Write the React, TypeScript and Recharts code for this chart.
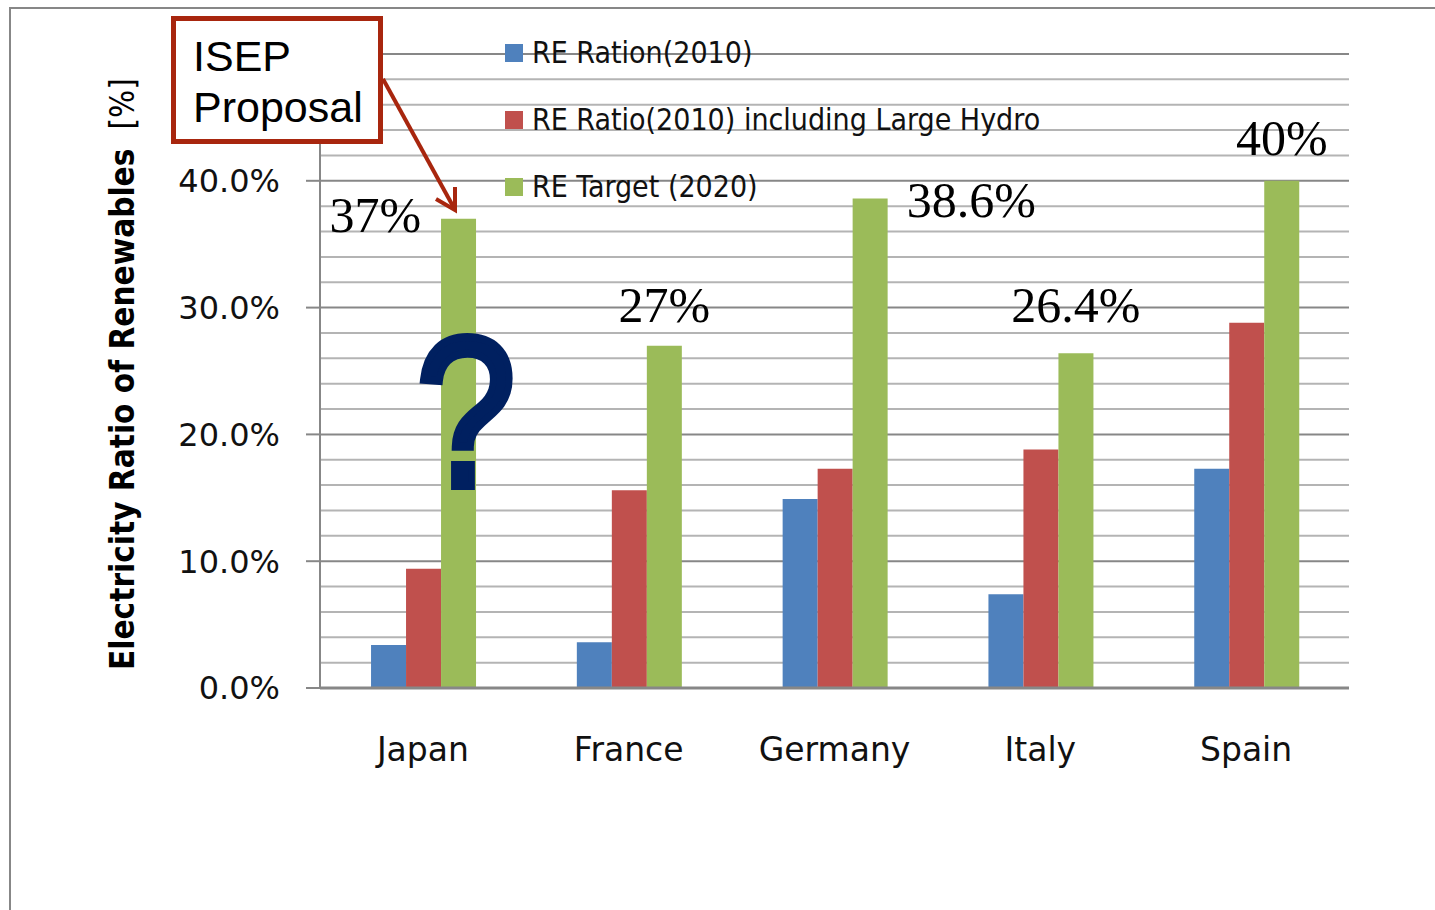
import React from 'react';
import { BarChart, Bar, XAxis, YAxis, CartesianGrid, Legend, LabelList } from 'recharts';

const countries = ['Japan', 'France', 'Germany', 'Italy', 'Spain'];
const reRatio2010 = [3.4, 3.6, 14.9, 7.4, 17.3];
const reRatioWithHydro = [9.4, 15.6, 17.3, 18.8, 28.8];
const reTarget2020 = [37, 27, 38.6, 26.4, 40];
const targetLabels = ['37%', '27%', '38.6%', '26.4%', '40%'];
const seriesNames = ['RE Ration(2010)', 'RE Ratio(2010) including Large Hydro', 'RE Target (2020)'];
const yTicks = [0, 10, 20, 30, 40, 50];
const minorTicks = [2, 4, 6, 8, 12, 14, 16, 18, 22, 24, 26, 28, 32, 34, 36, 38, 42, 44, 46, 48];

const data = countries.map((country, i) => ({
  country,
  ratio: reRatio2010[i],
  hydro: reRatioWithHydro[i],
  target: reTarget2020[i],
}));

// where each target label sits relative to its green bar
const labelPlacement = [
  { ref: 'left', anchor: 'end', dx: -20, dy: 13 },
  { ref: 'center', anchor: 'middle', dx: 0, dy: -24 },
  { ref: 'right', anchor: 'start', dx: 19, dy: 18 },
  { ref: 'center', anchor: 'middle', dx: 0, dy: -31 },
  { ref: 'center', anchor: 'middle', dx: 0, dy: -26 },
];

const AXIS_GRAY = '#878787';
const SANS = "'DejaVu Sans', Verdana, sans-serif";
const SANS_COND = "'DejaVu Sans Condensed', 'DejaVu Sans', sans-serif";
const ARROW_RED = '#a8260e';

function renderTargetLabel(props: any) {
  const { x, y, width, index } = props;
  const p = labelPlacement[index];
  if (!p) return null;
  const bx = p.ref === 'left' ? x : p.ref === 'right' ? x + width : x + width / 2;
  return (
    <text
      x={bx + p.dx}
      y={y + p.dy}
      textAnchor={p.anchor}
      fontFamily="'Liberation Serif', 'Times New Roman', serif"
      fontSize={50}
      fill="#000"
    >
      {targetLabels[index]}
    </text>
  );
}

function renderLegend(props: any) {
  const payload = [...(props.payload || [])].sort(
    (a: any, b: any) => seriesNames.indexOf(a.value) - seriesNames.indexOf(b.value)
  );
  return (
    <div>
      {payload.map((item: any, i: number) => (
        <div key={i} style={{ display: 'flex', alignItems: 'center', height: 67 }}>
          <span style={{ width: 18, height: 18, background: item.color, marginRight: 9, display: 'inline-block' }} />
          <span style={{ fontFamily: SANS_COND, fontSize: 30, lineHeight: '30px', color: '#111', whiteSpace: 'nowrap' }}>
            {item.value}
          </span>
        </div>
      ))}
    </div>
  );
}

export default function App() {
  return (
    <div style={{ position: 'absolute', left: 0, top: 0, width: 1435, height: 910, background: '#fff', overflow: 'hidden' }}>
      <BarChart
        width={1435}
        height={910}
        data={data}
        margin={{ top: 54, right: 86, bottom: 0, left: 0 }}
        barCategoryGap="24.8%"
        barGap={0}
      >
        <CartesianGrid vertical={false} horizontalValues={minorTicks} stroke="#b4b4b4" strokeWidth={2} />
        <CartesianGrid vertical={false} horizontalValues={yTicks} stroke={AXIS_GRAY} strokeWidth={2} />
        <XAxis
          dataKey="country"
          height={222}
          interval={0}
          tickLine={false}
          tickSize={0}
          tickMargin={50}
          axisLine={{ stroke: AXIS_GRAY, strokeWidth: 3 }}
          tick={{ fontSize: 33, fill: '#111', fontFamily: SANS }}
        />
        <YAxis
          width={320}
          domain={[0, 50]}
          ticks={yTicks}
          interval={0}
          // the 50% label sits under the ISEP box in the original
          tickFormatter={(v: number) => (v >= 50 ? '' : `${v.toFixed(1)}%`)}
          tickSize={14}
          tickMargin={26}
          axisLine={{ stroke: AXIS_GRAY, strokeWidth: 2 }}
          tickLine={{ stroke: AXIS_GRAY, strokeWidth: 2 }}
          tick={{ fontSize: 32, fill: '#111', fontFamily: SANS }}
        />
        <Legend
          layout="vertical"
          align="center"
          verticalAlign="middle"
          wrapperStyle={{ left: 505, top: 19, width: 620 }}
          content={renderLegend}
        />
        <Bar dataKey="ratio" name={seriesNames[0]} fill="#4f81bd" isAnimationActive={false} />
        <Bar dataKey="hydro" name={seriesNames[1]} fill="#c0504d" isAnimationActive={false} />
        <Bar dataKey="target" name={seriesNames[2]} fill="#9bbb59" isAnimationActive={false}>
          <LabelList dataKey="target" content={renderTargetLabel} />
        </Bar>
      </BarChart>

      <svg
        width={1435}
        height={910}
        style={{ position: 'absolute', left: 0, top: 0, pointerEvents: 'none' }}
      >
        <path d="M10 910 V8 H1435" stroke={AXIS_GRAY} strokeWidth={2} fill="none" />
        <text
          transform="translate(134 670) rotate(-90)"
          fontFamily={SANS_COND}
          fontSize={33}
          fill="#000"
        >
          <tspan fontWeight="bold">Electricity Ratio of Renewables</tspan>
          <tspan dx={19}>[%]</tspan>
        </text>
        <rect x={173.5} y={18.5} width={207} height={123} fill="#fff" stroke={ARROW_RED} strokeWidth={5} />
        <text x={193} y={71} fontFamily="'Liberation Sans', Arial, sans-serif" fontSize={43} fill="#000">ISEP</text>
        <text x={193} y={122} fontFamily="'Liberation Sans', Arial, sans-serif" fontSize={43} fill="#000">Proposal</text>
        <line x1={383} y1={79} x2={454} y2={208} stroke={ARROW_RED} strokeWidth={4} />
        <polyline points="436,199 455,210 455,187" stroke={ARROW_RED} strokeWidth={4} fill="none" />
        <text
          transform="translate(466 486) scale(0.84 1)"
          textAnchor="middle"
          fontFamily="'Liberation Sans', Arial, sans-serif"
          fontSize={214}
          stroke="#002060"
          strokeWidth={8}
          strokeLinejoin="miter"
          fill="#002060"
        >
          ?
        </text>
      </svg>
    </div>
  );
}
